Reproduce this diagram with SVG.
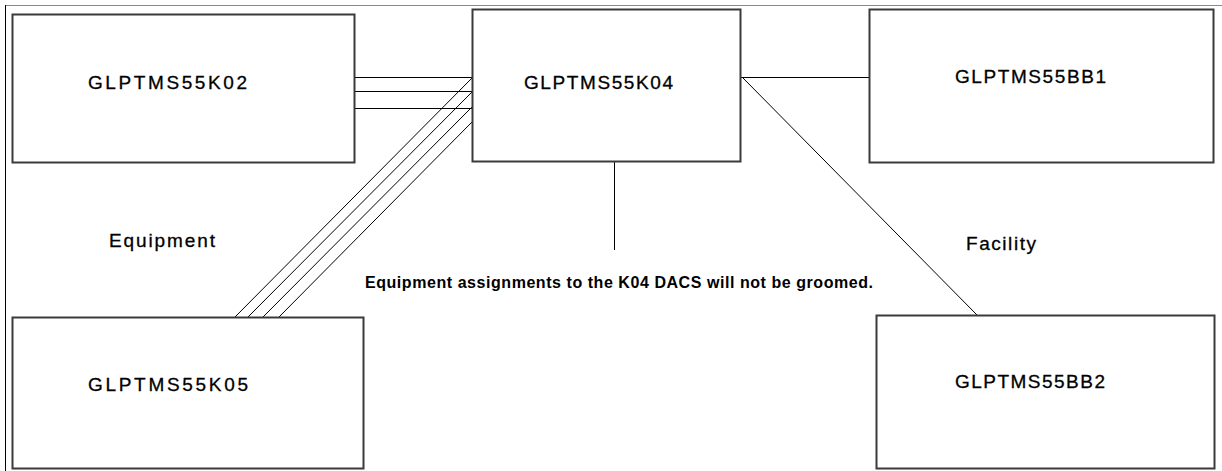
<svg xmlns="http://www.w3.org/2000/svg" width="1222" height="471" viewBox="0 0 1222 471">
<style>
.box{fill:#fff;stroke:#3a3a3a;stroke-width:2}
.lbl{font-family:"Liberation Sans",Arial,sans-serif;font-size:19px;fill:#000;stroke:#000;stroke-width:0.3}
.note{font-family:"Liberation Sans",Arial,sans-serif;font-size:16px;font-weight:bold;fill:#000}
.c{stroke:#000;stroke-width:1;fill:none}
</style>
<rect x="0" y="0" width="1222" height="471" fill="#fff"/>
<line x1="5" y1="5.5" x2="1222" y2="5.5" stroke="#888" stroke-width="1"/>
<line x1="5.5" y1="5" x2="5.5" y2="471" stroke="#000" stroke-width="1"/>
<g id="connectors">
<line class="c" x1="355" y1="77.5" x2="472" y2="77.5"/>
<line class="c" x1="355" y1="91.5" x2="472" y2="91.5"/>
<line class="c" x1="355" y1="108.5" x2="472" y2="108.5"/>
<line class="c" x1="235" y1="317" x2="472" y2="78"/>
<line class="c" x1="248" y1="317" x2="472" y2="92"/>
<line class="c" x1="263" y1="317" x2="472" y2="107"/>
<line class="c" x1="279" y1="317" x2="472" y2="122"/>
<line class="c" x1="741" y1="77.5" x2="869" y2="77.5"/>
<line class="c" x1="743" y1="78" x2="977" y2="315"/>
<line class="c" x1="614.5" y1="162" x2="614.5" y2="250"/>
</g>
<g id="K02">
<rect class="box" x="12.5" y="14.5" width="342" height="148"/>
<text class="lbl" x="88" y="89" textLength="159" lengthAdjust="spacing">GLPTMS55K02</text>
</g>
<g id="K04">
<rect class="box" x="472.5" y="9.5" width="268" height="152"/>
<text class="lbl" x="524" y="89" textLength="149" lengthAdjust="spacing">GLPTMS55K04</text>
</g>
<g id="BB1">
<rect class="box" x="869.5" y="9.5" width="344" height="153"/>
<text class="lbl" x="955" y="83" textLength="151" lengthAdjust="spacing">GLPTMS55BB1</text>
</g>
<g id="K05">
<rect class="box" x="12.5" y="317.5" width="351" height="151"/>
<text class="lbl" x="88" y="391" textLength="160" lengthAdjust="spacing">GLPTMS55K05</text>
</g>
<g id="BB2">
<rect class="box" x="876.5" y="315.5" width="338" height="153"/>
<text class="lbl" x="955" y="388" textLength="150" lengthAdjust="spacing">GLPTMS55BB2</text>
</g>
<g id="labels">
<text class="lbl" x="109" y="247" textLength="106" lengthAdjust="spacing">Equipment</text>
<text class="lbl" x="966" y="250" textLength="70" lengthAdjust="spacing">Facility</text>
<text class="note" x="365" y="288" textLength="508" lengthAdjust="spacing">Equipment assignments to the K04 DACS will not be groomed.</text>
</g>
</svg>
